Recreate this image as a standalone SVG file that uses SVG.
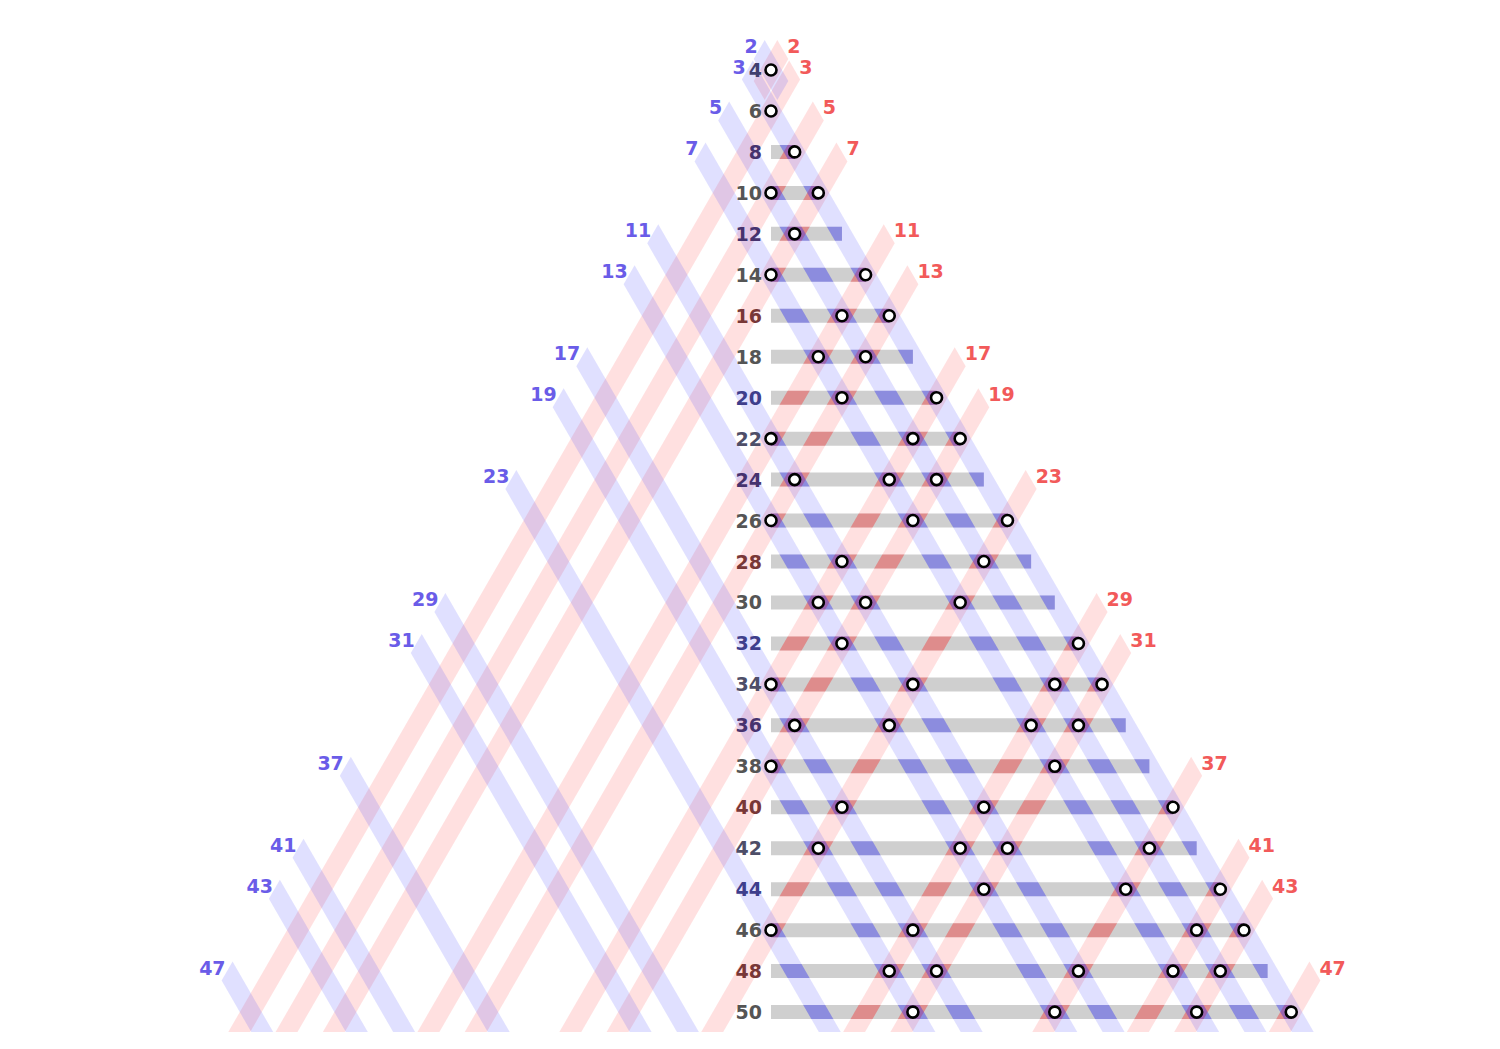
<svg xmlns="http://www.w3.org/2000/svg" xmlns:xlink="http://www.w3.org/1999/xlink" width="1500" height="1049" viewBox="0 0 1500 1049">
<style>
.lbl{font-family:"DejaVu Sans","Liberation Sans",sans-serif;font-weight:bold;font-size:19px}
.pb{fill:#6a5ce8;text-anchor:end}
.pr{fill:#f25a5a}
.rl{text-anchor:end}
.g{fill:#555555}.gb{fill:#4e4e68}.b{fill:#3e3e8c}.pu{fill:#46326e}.r{fill:#783737}.nb{fill:#404070}
.bar{fill:#cfcfcf}
.b1{fill:rgb(70,70,255);fill-opacity:0.17}
.r1{fill:rgb(255,70,70);fill-opacity:0.17}
.b2{fill:rgb(40,40,240);fill-opacity:0.3}
.r2{fill:rgb(240,40,40);fill-opacity:0.3}
circle{fill:#ffffff;stroke:#000000;stroke-width:2.6}
</style>
<defs>
<path id="barpath" d="M771,144.92h23.65v14h-23.65z M771,185.88h47.3v14h-47.3z M771,226.84h70.94v14h-70.94z M771,267.8h94.59v14h-94.59z M771,308.76h118.24v14h-118.24z M771,349.72h141.89v14h-141.89z M771,390.68h165.54v14h-165.54z M771,431.64h189.18v14h-189.18z M771,472.6h212.83v14h-212.83z M771,513.56h236.48v14h-236.48z M771,554.52h260.13v14h-260.13z M771,595.48h283.78v14h-283.78z M771,636.44h307.42v14h-307.42z M771,677.4h331.07v14h-331.07z M771,718.36h354.72v14h-354.72z M771,759.32h378.37v14h-378.37z M771,800.28h402.02v14h-402.02z M771,841.24h425.66v14h-425.66z M771,882.2h449.31v14h-449.31z M771,923.16h472.96v14h-472.96z M771,964.12h496.61v14h-496.61z M771,1005.08h520.26v14h-520.26z"/>
<clipPath id="onbar"><use xlink:href="#barpath" href="#barpath"/></clipPath>
<g id="bluestripes">
<polygon points="764.66,40.02 788.3,80.98 777.34,99.98 753.7,59.02"/>
<polygon points="752.83,60.5 1313.73,1032 1291.79,1032 741.87,79.5"/>
<polygon points="729.18,101.46 1266.44,1032 1244.5,1032 718.22,120.46"/>
<polygon points="705.54,142.42 1219.14,1032 1197.2,1032 694.58,161.42"/>
<polygon points="658.24,224.34 1124.55,1032 1102.61,1032 647.28,243.34"/>
<polygon points="634.59,265.3 1077.25,1032 1055.31,1032 623.63,284.3"/>
<polygon points="587.3,347.22 982.66,1032 960.72,1032 576.34,366.22"/>
<polygon points="563.65,388.18 935.36,1032 913.42,1032 552.69,407.18"/>
<polygon points="516.35,470.1 840.77,1032 818.83,1032 505.39,489.1"/>
<polygon points="445.41,592.98 698.88,1032 676.94,1032 434.45,611.98"/>
<polygon points="421.76,633.94 651.59,1032 629.65,1032 410.8,652.94"/>
<polygon points="350.82,756.82 509.7,1032 487.76,1032 339.86,775.82"/>
<polygon points="303.52,838.74 415.11,1032 393.17,1032 292.56,857.74"/>
<polygon points="279.87,879.7 367.81,1032 345.87,1032 268.91,898.7"/>
<polygon points="232.58,961.62 273.22,1032 251.28,1032 221.62,980.62"/>
</g>
<g id="redstripes">
<polygon points="777.34,40.02 788.3,59.02 764.66,99.98 753.7,80.98"/>
<polygon points="789.17,60.5 800.13,79.5 250.21,1032 228.27,1032"/>
<polygon points="812.82,101.46 823.78,120.46 297.5,1032 275.56,1032"/>
<polygon points="836.46,142.42 847.42,161.42 344.8,1032 322.86,1032"/>
<polygon points="883.76,224.34 894.72,243.34 439.39,1032 417.45,1032"/>
<polygon points="907.41,265.3 918.37,284.3 486.69,1032 464.75,1032"/>
<polygon points="954.7,347.22 965.66,366.22 581.28,1032 559.34,1032"/>
<polygon points="978.35,388.18 989.31,407.18 628.58,1032 606.64,1032"/>
<polygon points="1025.65,470.1 1036.61,489.1 723.17,1032 701.23,1032"/>
<polygon points="1096.59,592.98 1107.55,611.98 865.06,1032 843.12,1032"/>
<polygon points="1120.24,633.94 1131.2,652.94 912.35,1032 890.41,1032"/>
<polygon points="1191.18,756.82 1202.14,775.82 1054.24,1032 1032.3,1032"/>
<polygon points="1238.48,838.74 1249.44,857.74 1148.83,1032 1126.89,1032"/>
<polygon points="1262.13,879.7 1273.09,898.7 1196.13,1032 1174.19,1032"/>
<polygon points="1309.42,961.62 1320.38,980.62 1290.72,1032 1268.78,1032"/>
</g>
</defs>
<rect x="0" y="0" width="1500" height="1049" fill="#ffffff"/>
<g id="bars"><use xlink:href="#barpath" href="#barpath" class="bar"/></g>
<g id="connectors">
<use xlink:href="#redstripes" href="#redstripes" class="r1"/>
<use xlink:href="#bluestripes" href="#bluestripes" class="b1"/>
<g clip-path="url(#onbar)">
<use xlink:href="#redstripes" href="#redstripes" class="r2"/>
<use xlink:href="#bluestripes" href="#bluestripes" class="b2"/>
</g>
</g>
<g id="prime-labels" class="lbl">
<text class="pb" x="757.68" y="53.02">2</text>
<text class="pb" x="745.85" y="73.5">3</text>
<text class="pb" x="722.2" y="114.46">5</text>
<text class="pb" x="698.56" y="155.42">7</text>
<text class="pb" x="651.26" y="237.34">11</text>
<text class="pb" x="627.61" y="278.3">13</text>
<text class="pb" x="580.32" y="360.22">17</text>
<text class="pb" x="556.67" y="401.18">19</text>
<text class="pb" x="509.37" y="483.1">23</text>
<text class="pb" x="438.43" y="605.98">29</text>
<text class="pb" x="414.78" y="646.94">31</text>
<text class="pb" x="343.84" y="769.82">37</text>
<text class="pb" x="296.54" y="851.74">41</text>
<text class="pb" x="272.89" y="892.7">43</text>
<text class="pb" x="225.6" y="974.62">47</text>
<text class="pr" x="787.32" y="53.02">2</text>
<text class="pr" x="799.15" y="73.5">3</text>
<text class="pr" x="822.8" y="114.46">5</text>
<text class="pr" x="846.44" y="155.42">7</text>
<text class="pr" x="893.74" y="237.34">11</text>
<text class="pr" x="917.39" y="278.3">13</text>
<text class="pr" x="964.68" y="360.22">17</text>
<text class="pr" x="988.33" y="401.18">19</text>
<text class="pr" x="1035.63" y="483.1">23</text>
<text class="pr" x="1106.57" y="605.98">29</text>
<text class="pr" x="1130.22" y="646.94">31</text>
<text class="pr" x="1201.16" y="769.82">37</text>
<text class="pr" x="1248.46" y="851.74">41</text>
<text class="pr" x="1272.11" y="892.7">43</text>
<text class="pr" x="1319.4" y="974.62">47</text>
</g>
<g id="rows" class="lbl">
<g id="n4"><text class="rl nb" x="762" y="77">4</text><circle cx="771" cy="70" r="5.5"/></g>
<g id="n6"><text class="rl g" x="762" y="117.96">6</text><circle cx="771" cy="110.96" r="5.5"/></g>
<g id="n8"><text class="rl pu" x="762" y="158.92">8</text><circle cx="794.65" cy="151.92" r="5.5"/></g>
<g id="n10"><text class="rl g" x="762" y="199.88">10</text><circle cx="771" cy="192.88" r="5.5"/><circle cx="818.3" cy="192.88" r="5.5"/></g>
<g id="n12"><text class="rl pu" x="762" y="240.84">12</text><circle cx="794.65" cy="233.84" r="5.5"/></g>
<g id="n14"><text class="rl g" x="762" y="281.8">14</text><circle cx="771" cy="274.8" r="5.5"/><circle cx="865.59" cy="274.8" r="5.5"/></g>
<g id="n16"><text class="rl r" x="762" y="322.76">16</text><circle cx="841.94" cy="315.76" r="5.5"/><circle cx="889.24" cy="315.76" r="5.5"/></g>
<g id="n18"><text class="rl g" x="762" y="363.72">18</text><circle cx="818.3" cy="356.72" r="5.5"/><circle cx="865.59" cy="356.72" r="5.5"/></g>
<g id="n20"><text class="rl b" x="762" y="404.68">20</text><circle cx="841.94" cy="397.68" r="5.5"/><circle cx="936.54" cy="397.68" r="5.5"/></g>
<g id="n22"><text class="rl gb" x="762" y="445.64">22</text><circle cx="771" cy="438.64" r="5.5"/><circle cx="912.89" cy="438.64" r="5.5"/><circle cx="960.18" cy="438.64" r="5.5"/></g>
<g id="n24"><text class="rl pu" x="762" y="486.6">24</text><circle cx="794.65" cy="479.6" r="5.5"/><circle cx="889.24" cy="479.6" r="5.5"/><circle cx="936.54" cy="479.6" r="5.5"/></g>
<g id="n26"><text class="rl g" x="762" y="527.56">26</text><circle cx="771" cy="520.56" r="5.5"/><circle cx="912.89" cy="520.56" r="5.5"/><circle cx="1007.48" cy="520.56" r="5.5"/></g>
<g id="n28"><text class="rl r" x="762" y="568.52">28</text><circle cx="841.94" cy="561.52" r="5.5"/><circle cx="983.83" cy="561.52" r="5.5"/></g>
<g id="n30"><text class="rl g" x="762" y="609.48">30</text><circle cx="818.3" cy="602.48" r="5.5"/><circle cx="865.59" cy="602.48" r="5.5"/><circle cx="960.18" cy="602.48" r="5.5"/></g>
<g id="n32"><text class="rl b" x="762" y="650.44">32</text><circle cx="841.94" cy="643.44" r="5.5"/><circle cx="1078.42" cy="643.44" r="5.5"/></g>
<g id="n34"><text class="rl gb" x="762" y="691.4">34</text><circle cx="771" cy="684.4" r="5.5"/><circle cx="912.89" cy="684.4" r="5.5"/><circle cx="1054.78" cy="684.4" r="5.5"/><circle cx="1102.07" cy="684.4" r="5.5"/></g>
<g id="n36"><text class="rl pu" x="762" y="732.36">36</text><circle cx="794.65" cy="725.36" r="5.5"/><circle cx="889.24" cy="725.36" r="5.5"/><circle cx="1031.13" cy="725.36" r="5.5"/><circle cx="1078.42" cy="725.36" r="5.5"/></g>
<g id="n38"><text class="rl g" x="762" y="773.32">38</text><circle cx="771" cy="766.32" r="5.5"/><circle cx="1054.78" cy="766.32" r="5.5"/></g>
<g id="n40"><text class="rl r" x="762" y="814.28">40</text><circle cx="841.94" cy="807.28" r="5.5"/><circle cx="983.83" cy="807.28" r="5.5"/><circle cx="1173.02" cy="807.28" r="5.5"/></g>
<g id="n42"><text class="rl gb" x="762" y="855.24">42</text><circle cx="818.3" cy="848.24" r="5.5"/><circle cx="960.18" cy="848.24" r="5.5"/><circle cx="1007.48" cy="848.24" r="5.5"/><circle cx="1149.37" cy="848.24" r="5.5"/></g>
<g id="n44"><text class="rl b" x="762" y="896.2">44</text><circle cx="983.83" cy="889.2" r="5.5"/><circle cx="1125.72" cy="889.2" r="5.5"/><circle cx="1220.31" cy="889.2" r="5.5"/></g>
<g id="n46"><text class="rl g" x="762" y="937.16">46</text><circle cx="771" cy="930.16" r="5.5"/><circle cx="912.89" cy="930.16" r="5.5"/><circle cx="1196.66" cy="930.16" r="5.5"/><circle cx="1243.96" cy="930.16" r="5.5"/></g>
<g id="n48"><text class="rl r" x="762" y="978.12">48</text><circle cx="889.24" cy="971.12" r="5.5"/><circle cx="936.54" cy="971.12" r="5.5"/><circle cx="1078.42" cy="971.12" r="5.5"/><circle cx="1173.02" cy="971.12" r="5.5"/><circle cx="1220.31" cy="971.12" r="5.5"/></g>
<g id="n50"><text class="rl g" x="762" y="1019.08">50</text><circle cx="912.89" cy="1012.08" r="5.5"/><circle cx="1054.78" cy="1012.08" r="5.5"/><circle cx="1196.66" cy="1012.08" r="5.5"/><circle cx="1291.26" cy="1012.08" r="5.5"/></g>
</g>
</svg>
